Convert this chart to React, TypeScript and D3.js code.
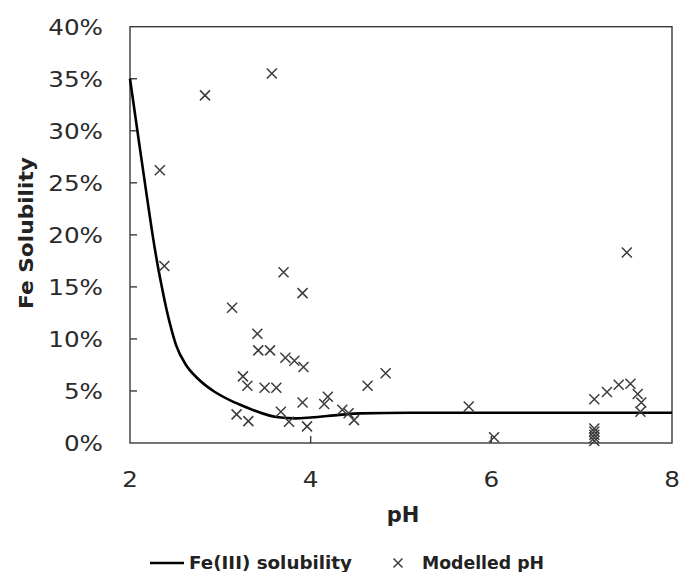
import React, { useEffect, useRef } from 'react';
import * as d3 from 'd3';

const xTicks = [2, 4, 6, 8];
const yTicks = [0, 5, 10, 15, 20, 25, 30, 35, 40];

const curvePH = [2.0, 2.1, 2.2, 2.25, 2.3, 2.35, 2.4, 2.45, 2.51, 2.62, 2.75, 2.94, 3.11, 3.2, 3.4, 3.62, 3.83, 4.0, 4.32, 4.55, 5.1, 6.0, 7.0, 8.0];
const curveSol = [35.0, 28.9, 22.9, 20.0, 17.4, 15.1, 13.0, 11.2, 9.4, 7.5, 6.2, 4.9, 4.1, 3.75, 3.05, 2.5, 2.37, 2.45, 2.7, 2.85, 2.9, 2.9, 2.9, 2.9];

const scatterPH = [2.33, 2.83, 3.57, 2.38, 3.13, 3.7, 3.91, 3.41, 3.42, 3.55, 3.72, 3.82, 3.92, 3.25, 3.3, 3.49, 3.62, 3.91, 3.18, 3.31, 3.67, 3.76, 3.96, 4.15, 4.19, 4.35, 4.42, 4.48, 4.63, 4.83, 5.75, 6.03, 7.5, 7.14, 7.28, 7.41, 7.54, 7.62, 7.66, 7.65, 7.14, 7.14, 7.14, 7.14, 7.14];
const scatterSol = [26.2, 33.4, 35.5, 17.0, 13.0, 16.4, 14.4, 10.5, 8.9, 8.9, 8.2, 7.9, 7.3, 6.4, 5.5, 5.3, 5.3, 3.9, 2.75, 2.1, 3.0, 2.05, 1.6, 3.75, 4.45, 3.2, 2.85, 2.2, 5.5, 6.7, 3.5, 0.55, 18.3, 4.2, 4.9, 5.6, 5.7, 4.7, 3.9, 3.0, 1.4, 1.1, 0.8, 0.5, 0.2];

export default function App() {
  const ref = useRef<SVGSVGElement>(null);
  useEffect(() => {
    const svg = d3.select(ref.current);
    svg.selectAll('*').remove();
    const x = d3.scaleLinear().domain([2, 8]).range([130, 672]);
    const y = d3.scaleLinear().domain([0, 40]).range([443, 26.7]);
    const axisColor = '#3a3a3a';
    const font = '"DejaVu Sans", Verdana, sans-serif';

    svg.append('rect').attr('width', 681).attr('height', 572).attr('fill', '#fff');

    // frame
    svg.append('rect')
      .attr('x', x(2)).attr('y', y(40))
      .attr('width', x(8) - x(2)).attr('height', y(0) - y(40))
      .attr('fill', 'none').attr('stroke', axisColor).attr('stroke-width', 1.4);

    // y ticks
    svg.selectAll('.yt').data(yTicks.filter(t => t > 0 && t < 40)).enter().append('line')
      .attr('x1', x(2)).attr('x2', x(2) + 7)
      .attr('y1', d => y(d)).attr('y2', d => y(d))
      .attr('stroke', axisColor).attr('stroke-width', 1.4);
    // x ticks
    svg.selectAll('.xt').data(xTicks.filter(t => t > 2 && t < 8)).enter().append('line')
      .attr('x1', d => x(d)).attr('x2', d => x(d))
      .attr('y1', y(0)).attr('y2', y(0) - 7)
      .attr('stroke', axisColor).attr('stroke-width', 1.4);

    // y labels
    svg.selectAll('.yl').data(yTicks).enter().append('text')
      .attr('transform', d => `translate(103,${y(d) + 8}) scale(1.12,1)`)
      .attr('text-anchor', 'end')
      .attr('font-family', font).attr('font-size', 22).attr('fill', '#2a2a2a')
      .text(d => `${d}%`);
    // x labels
    svg.selectAll('.xl').data(xTicks).enter().append('text')
      .attr('transform', d => `translate(${x(d)},487) scale(1.12,1)`)
      .attr('text-anchor', 'middle')
      .attr('font-family', font).attr('font-size', 22).attr('fill', '#2a2a2a')
      .text(d => `${d}`);

    // axis titles
    svg.append('text')
      .attr('transform', 'translate(33,233) rotate(-90)')
      .attr('text-anchor', 'middle')
      .attr('font-family', font).attr('font-size', 20).attr('font-weight', 'bold').attr('fill', '#222')
      .attr('textLength', 152).attr('lengthAdjust', 'spacingAndGlyphs')
      .text('Fe Solubility');
    svg.append('text')
      .attr('x', 403).attr('y', 522)
      .attr('text-anchor', 'middle')
      .attr('font-family', font).attr('font-size', 21).attr('font-weight', 'bold').attr('fill', '#222')
      .text('pH');

    // curve
    const line = d3.line<number>()
      .x((_, i) => x(curvePH[i]))
      .y(d => y(d))
      .curve(d3.curveMonotoneX);
    svg.append('path').datum(curveSol)
      .attr('d', line)
      .attr('fill', 'none').attr('stroke', '#000').attr('stroke-width', 2.6);

    // scatter
    const s = 5;
    const cross = (cx: number, cy: number) => `M${cx - s},${cy - s}L${cx + s},${cy + s}M${cx - s},${cy + s}L${cx + s},${cy - s}`;
    svg.selectAll('.pt').data(scatterSol).enter().append('path')
      .attr('d', (d, i) => cross(x(scatterPH[i]), y(d)))
      .attr('fill', 'none').attr('stroke', '#3c3c3c').attr('stroke-width', 1.5);

    // legend
    svg.append('line').attr('x1', 150).attr('x2', 184).attr('y1', 563).attr('y2', 563)
      .attr('stroke', '#000').attr('stroke-width', 2.6);
    svg.append('text').attr('x', 189).attr('y', 569)
      .attr('font-family', font).attr('font-size', 17).attr('font-weight', 'bold').attr('fill', '#222')
      .attr('textLength', 163).attr('lengthAdjust', 'spacingAndGlyphs')
      .text('Fe(III) solubility');
    const ls = 4.5;
    svg.append('path')
      .attr('d', `M${398 - ls},${563 - ls}L${398 + ls},${563 + ls}M${398 - ls},${563 + ls}L${398 + ls},${563 - ls}`)
      .attr('stroke', '#3c3c3c').attr('stroke-width', 1.5).attr('fill', 'none');
    svg.append('text').attr('x', 422).attr('y', 569)
      .attr('font-family', font).attr('font-size', 17).attr('font-weight', 'bold').attr('fill', '#222')
      .attr('textLength', 122).attr('lengthAdjust', 'spacingAndGlyphs')
      .text('Modelled pH');
  }, []);
  return <svg ref={ref} width={681} height={572} style={{ position: 'absolute', left: 0, top: 0 }} />;
}
